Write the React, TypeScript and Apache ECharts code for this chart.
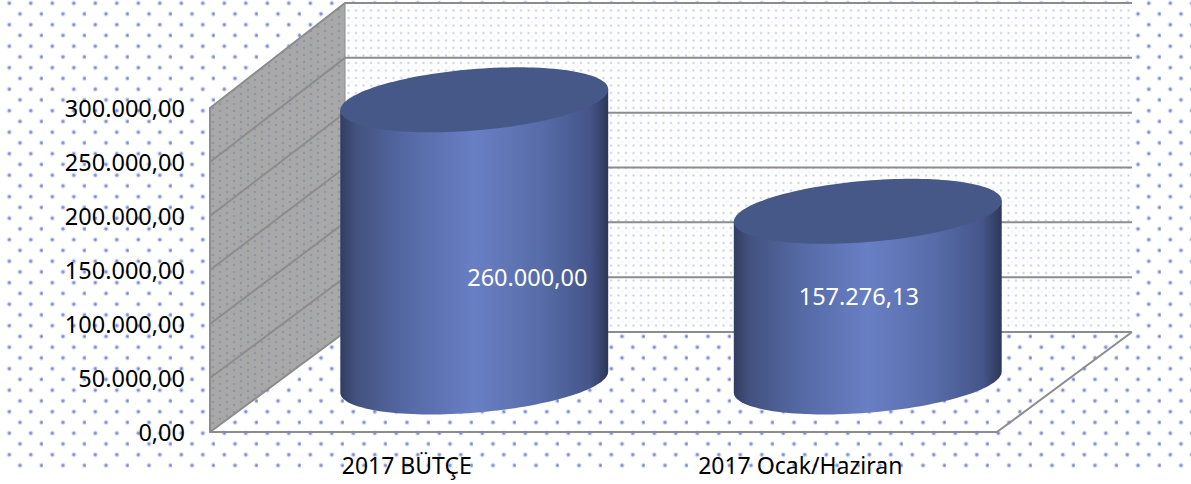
import React, { useEffect, useRef } from "react";
import * as echarts from "echarts";

const categories = ["2017 BÜTÇE", "2017 Ocak/Haziran"];
const values = [260000, 157276.13];
const valueLabels = ["260.000,00", "157.276,13"];
const labelOffsets = [[53, 177], [-9, 85]];
const ticks = [0, 50000, 100000, 150000, 200000, 250000, 300000];
const tickLabels = ["0,00", "50.000,00", "100.000,00", "150.000,00", "200.000,00", "250.000,00", "300.000,00"];

const FONT = "'Noto Sans', sans-serif";
const WIDTH = 1191;
const HEIGHT = 484;
const DEPTH_X = 135;
const DEPTH_Y = 100;
const BACK_SCALE = 329 / 324;
const MID_SCALE = 1.005;
const RX_RATIO = 0.3415;
const RY_RATIO = 0.228; // semi-minor / semi-major
const TILT = (4.73 * Math.PI) / 180;
const LINE = "#8c8c8c";

function tile(size: number, draw: (c: CanvasRenderingContext2D) => void) {
  const cv = document.createElement("canvas");
  cv.width = size;
  cv.height = size;
  const c = cv.getContext("2d")!;
  draw(c);
  return { image: cv, repeat: "repeat", imageWidth: size, imageHeight: size };
}

function dot(c: CanvasRenderingContext2D, x: number, y: number, r: number, rgb: string, alpha: number) {
  const g = c.createRadialGradient(x, y, 0, x, y, r);
  g.addColorStop(0, `rgba(${rgb},${alpha})`);
  g.addColorStop(0.35, `rgba(${rgb},${alpha * 0.65})`);
  g.addColorStop(0.65, `rgba(${rgb},${alpha * 0.16})`);
  g.addColorStop(1, `rgba(${rgb},0)`);
  c.fillStyle = g;
  c.beginPath();
  c.arc(x, y, r, 0, Math.PI * 2);
  c.fill();
}

function pageTile() {
  return tile(43, (c) => {
    c.fillStyle = "#ffffff";
    c.fillRect(0, 0, 43, 43);
    for (let i = 0; i < 2; i++) {
      for (let j = 0; j < 2; j++) {
        dot(c, 20 + 21.5 * i, 13.9 + 21.5 * j, 3.4, "96,116,196", 0.95);
        dot(c, 9.3 + 21.5 * i, 3.2 + 21.5 * j, 3.4, "96,116,196", 0.95);
      }
    }
  });
}

function backTile() {
  return tile(15, (c) => {
    c.fillStyle = "#ffffff";
    c.fillRect(0, 0, 15, 15);
    dot(c, 3.5, 3, 2.2, "130,148,215", 0.5);
    dot(c, 11, 3, 2.2, "130,148,215", 0.5);
    dot(c, 7.2, 6.8, 2.6, "190,205,240", 0.25);
    dot(c, 3.5, 10.5, 2.2, "130,148,215", 0.5);
    dot(c, 11, 10.5, 2.2, "130,148,215", 0.5);
    dot(c, 14.7, 6.8, 2.6, "190,205,240", 0.25);
  });
}

function sideTile() {
  return tile(14, (c) => {
    c.fillStyle = "#a8a8a8";
    c.fillRect(0, 0, 14, 14);
    dot(c, 3, 3, 2, "105,112,150", 0.55);
    dot(c, 10, 6, 2, "105,112,150", 0.55);
    dot(c, 3, 10, 2, "105,112,150", 0.55);
    dot(c, 10, 13, 2, "105,112,150", 0.55);
  });
}

function ellipsePoint(cx: number, cy: number, a: number, b: number, t: number) {
  const c = Math.cos(TILT);
  const s = Math.sin(TILT);
  return [
    cx + a * Math.cos(t) * c + b * Math.sin(t) * s,
    cy - a * Math.cos(t) * s + b * Math.sin(t) * c,
  ];
}

export default function App() {
  const ref = useRef<HTMLDivElement>(null);
  useEffect(() => {
    document.body.style.margin = "0";
    const chart = echarts.init(ref.current!, null, { renderer: "svg" });
    const pagePattern = pageTile();
    const backPattern = backTile();
    const sidePattern = sideTile();

    const renderWalls = (params: any, api: any) => {
      const cs = params.coordSys;
      const v = api.value(0);
      const left = cs.x;
      const bottom = cs.y + cs.height;
      const right = cs.x + cs.width;
      const y = api.coord([0, v])[1];
      const backBottom = bottom - DEPTH_Y;
      const backY = backBottom - (bottom - y) * BACK_SCALE;
      const backX = left + DEPTH_X;
      const children: any[] = [];
      if (params.dataIndex === 0) {
        const backTop = backBottom - cs.height * BACK_SCALE;
        children.push({
          type: "polygon",
          shape: { points: [[backX, backTop], [right + DEPTH_X, backTop], [right + DEPTH_X, backBottom], [backX, backBottom]] },
          style: { fill: backPattern },
        });
        children.push({
          type: "polygon",
          shape: { points: [[left, cs.y], [backX, backTop], [backX, backBottom], [left, bottom]] },
          style: { fill: sidePattern, stroke: LINE, lineWidth: 1 },
        });
        children.push({
          type: "line",
          shape: { x1: right, y1: bottom, x2: right + DEPTH_X, y2: backBottom },
          style: { stroke: LINE, lineWidth: 2 },
        });
      }
      children.push({
        type: "polyline",
        shape: { points: [[left, y], [backX, backY], [right + DEPTH_X, backY]] },
        style: { stroke: LINE, lineWidth: 2, fill: "none" },
      });
      return { type: "group", children };
    };

    const renderCylinder = (params: any, api: any) => {
      const idx = api.value(0);
      const top = api.coord([idx, api.value(1)]);
      const base = api.coord([idx, 0]);
      const a0 = api.size([1, 0])[0] * RX_RATIO;
      const b = a0 * RY_RATIO;
      const cx = top[0] + DEPTH_X / 2;
      const baseY = base[1] - DEPTH_Y / 2;
      const topY = baseY - (base[1] - top[1]) * MID_SCALE;
      const t0 = Math.atan2(b * Math.sin(TILT), a0 * Math.cos(TILT));
      const N = 72;
      const body: number[][] = [];
      for (let i = 0; i <= N; i++) {
        body.push(ellipsePoint(cx, baseY, a0, b, t0 + (Math.PI * i) / N));
      }
      body.push(ellipsePoint(cx, topY, a0, b, t0 + Math.PI));
      body.push(ellipsePoint(cx, topY, a0, b, t0));
      const rim: number[][] = [];
      for (let i = 0; i < N * 2; i++) {
        rim.push(ellipsePoint(cx, topY, a0, b, (Math.PI * i) / N));
      }
      const off = labelOffsets[params.dataIndex];
      return {
        type: "group",
        children: [
          {
            type: "polygon",
            shape: { points: body },
            style: {
              fill: new echarts.graphic.LinearGradient(0, 0, 1, 0, [
                { offset: 0, color: "#313d62" },
                { offset: 0.06, color: "#43527f" },
                { offset: 0.25, color: "#5569a5" },
                { offset: 0.5, color: "#697fc4" },
                { offset: 0.75, color: "#576ca8" },
                { offset: 0.93, color: "#45558a" },
                { offset: 1, color: "#2c3858" },
              ]),
            },
          },
          { type: "polygon", shape: { points: rim }, style: { fill: "#465887" } },
          {
            type: "text",
            x: cx + off[0],
            y: topY + off[1],
            style: {
              text: valueLabels[params.dataIndex],
              fill: "#ffffff",
              font: `23.5px ${FONT}`,
              align: "center",
              verticalAlign: "middle",
            },
          },
        ],
      };
    };

    chart.setOption({
      animation: false,
      textStyle: { fontFamily: FONT },
      graphic: [
        {
          type: "rect",
          z: -10,
          silent: true,
          shape: { x: 0, y: 0, width: WIDTH, height: 473 },
          style: { fill: pagePattern },
        },
      ],
      grid: { left: 210, right: 194, top: 108, bottom: 52, containLabel: false },
      xAxis: {
        type: "category",
        data: categories,
        axisTick: { show: false },
        axisLine: { lineStyle: { color: LINE, width: 2 } },
        axisLabel: { color: "#000", fontSize: 23, margin: 21, fontFamily: FONT },
        splitLine: { show: false },
        z: 10,
      },
      yAxis: {
        type: "value",
        min: 0,
        max: 300000,
        interval: 50000,
        axisTick: { show: false },
        axisLine: { show: true, lineStyle: { color: LINE, width: 2 } },
        axisLabel: {
          color: "#000",
          fontSize: 23.5,
          margin: 25,
          fontFamily: FONT,
          formatter: (v: number) => tickLabels[ticks.indexOf(v)],
        },
        splitLine: { show: false },
        z: 10,
      },
      series: [
        {
          type: "custom",
          z: 2,
          silent: true,
          renderItem: renderWalls,
          data: ticks.map((t) => [t]),
          encode: { y: 0 },
        },
        {
          type: "custom",
          z: 3,
          silent: true,
          renderItem: renderCylinder,
          data: values.map((v, i) => [i, v]),
          encode: { x: 0, y: 1 },
        },
      ],
    });
    return () => chart.dispose();
  }, []);
  return <div ref={ref} style={{ width: WIDTH, height: HEIGHT }} />;
}
